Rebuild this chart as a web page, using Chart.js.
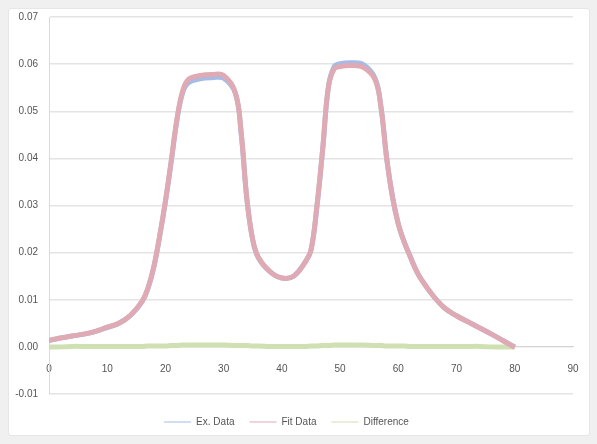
<!DOCTYPE html>
<html>
<head>
<meta charset="utf-8">
<script src="https://cdn.jsdelivr.net/npm/chart.js@4"></script>
<style>
html, body { margin: 0; padding: 0; background: #f0f0f0; }
#frame { position: absolute; left: 8px; top: 8px; width: 580px; height: 426px; background: #fff; border: 1px solid #e6e6e6; border-radius: 3px; }
#wrap { position: absolute; left: 0; top: 0; width: 597px; height: 444px; }
</style>
</head>
<body>
<div id="frame"></div>
<div id="wrap"><canvas id="chart"></canvas></div>
<script>
const seriesNames = ['Ex. Data', 'Fit Data', 'Difference'];

const xValues = [0, 2, 4, 6, 8, 10, 12, 14, 16, 17,
    18, 19, 20, 21, 22, 23, 24, 26, 28, 30,
    32, 33, 34, 35, 36, 38, 40, 42, 44, 45,
    46, 47, 48, 49, 50, 52, 54, 56, 57, 58,
    59, 60, 61, 62, 63, 64, 66, 68, 70, 72,
    74, 76, 78, 80];

const expValues = [0.0013, 0.0019, 0.0023, 0.0027, 0.0033, 0.0041, 0.0050, 0.0067, 0.0096, 0.0124,
    0.0169, 0.0234, 0.0308, 0.0394, 0.0483, 0.0541, 0.0561, 0.0569, 0.0571, 0.0570,
    0.0538, 0.0454, 0.0312, 0.0226, 0.0188, 0.0159, 0.0146, 0.0150, 0.0180, 0.0205,
    0.0296, 0.0418, 0.0553, 0.0595, 0.0601, 0.0603, 0.0599, 0.0570, 0.0511, 0.0400,
    0.0318, 0.0260, 0.0223, 0.0193, 0.0164, 0.0142, 0.0108, 0.0082, 0.0066, 0.0053,
    0.0040, 0.0027, 0.0013, 0.0000];

const calcValues = [0.0014, 0.0019, 0.0023, 0.0027, 0.0033, 0.0042, 0.0050, 0.0067, 0.0097, 0.0125,
    0.0170, 0.0235, 0.0310, 0.0395, 0.0485, 0.0545, 0.0568, 0.0576, 0.0578, 0.0576,
    0.0540, 0.0455, 0.0312, 0.0227, 0.0189, 0.0159, 0.0146, 0.0150, 0.0180, 0.0206,
    0.0297, 0.0419, 0.0552, 0.0590, 0.0595, 0.0597, 0.0593, 0.0567, 0.0510, 0.0400,
    0.0318, 0.0261, 0.0223, 0.0193, 0.0164, 0.0142, 0.0108, 0.0082, 0.0066, 0.0053,
    0.0040, 0.0027, 0.0013, -0.0001];

const diffValues = [0.0000, 0.0000, 0.0001, 0.0001, 0.0001, 0.0001, 0.0001, 0.0001, 0.0001, 0.0002,
    0.0002, 0.0002, 0.0002, 0.0003, 0.0003, 0.0004, 0.0004, 0.0004, 0.0004, 0.0004,
    0.0003, 0.0003, 0.0003, 0.0002, 0.0002, 0.0001, 0.0001, 0.0001, 0.0001, 0.0002,
    0.0002, 0.0003, 0.0003, 0.0004, 0.0004, 0.0004, 0.0004, 0.0003, 0.0003, 0.0002,
    0.0002, 0.0002, 0.0002, 0.0001, 0.0001, 0.0001, 0.0001, 0.0001, 0.0001, 0.0001,
    0.0001, 0.0000, 0.0000, 0.0000];

const xTicks = { min: 0, max: 90, step: 10 };
const yTicks = { min: -0.01, max: 0.07, step: 0.01 };

function toPoints(ys) {
    return xValues.map((x, i) => ({ x: x, y: ys[i] }));
}

// move the legend down a bit, the x axis sits at y = 0 so nothing else is below the plot
const legendShift = {
    id: 'legendShift',
    afterLayout(chart) {
        chart.legend.top += 8;
        chart.legend.bottom += 8;
    }
};

const textColor = '#555555';
const font = { family: 'Liberation Sans', size: 10 };

let chart = new Chart(document.getElementById('chart'), {
    type: 'line',
    data: {
        datasets: [{
            label: seriesNames[0],
            data: toPoints(expValues),
            borderColor: 'rgb(165,188,230)',
            backgroundColor: 'rgb(165,188,230)',
            order: 1
        }, {
            label: seriesNames[1],
            data: toPoints(calcValues),
            borderColor: 'rgb(223,170,180)',
            backgroundColor: 'rgb(223,170,180)',
            order: 0
        }, {
            label: seriesNames[2],
            data: toPoints(diffValues),
            borderColor: 'rgb(207,224,178)',
            backgroundColor: 'rgb(207,224,178)',
            order: 2
        }]
    },
    options: {
        responsive: true,
        maintainAspectRatio: false,
        animation: false,
        elements: {
            point: { radius: 0 },
            line: { borderWidth: 5, tension: 0.4 }
        },
        layout: { padding: { left: 0, right: 24, top: 17, bottom: 15 } },
        scales: {
            x: {
                type: 'linear',
                position: { y: 0 },
                min: xTicks.min,
                max: xTicks.max,
                ticks: { stepSize: xTicks.step, color: textColor, font: font, padding: 8 },
                grid: { display: false },
                border: { color: '#d4d4d4' }
            },
            y: {
                min: yTicks.min,
                max: yTicks.max,
                ticks: {
                    stepSize: yTicks.step,
                    color: textColor,
                    font: font,
                    padding: 11,
                    callback: (v) => v.toFixed(2)
                },
                grid: { color: '#e4e4e4', lineWidth: 1.5, drawTicks: false },
                border: { color: '#dadada' },
                afterFit: (scale) => { scale.width = 49; }
            }
        },
        plugins: {
            tooltip: { enabled: false },
            legend: {
                position: 'bottom',
                labels: {
                    color: textColor,
                    font: { family: 'Liberation Sans', size: 10 },
                    usePointStyle: true,
                    pointStyle: 'line',
                    pointStyleWidth: 27,
                    padding: 15,
                    sort: (a, b) => a.datasetIndex - b.datasetIndex
                }
            }
        }
    },
    plugins: [legendShift]
});
</script>
</body>
</html>
